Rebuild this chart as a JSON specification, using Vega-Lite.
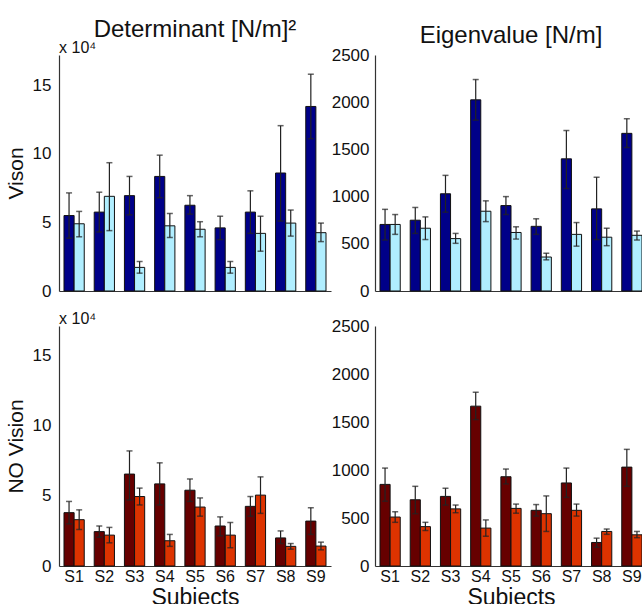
{
  "$schema": "https://vega.github.io/schema/vega-lite/v6.json",
  "autosize": {"type": "none"},
  "padding": {"left": 59, "top": 55, "right": 583, "bottom": 549},
  "background": "white",
  "columns": 2,
  "bounds": "flush",
  "spacing": {"row": 35, "column": 44},
  "resolve": {"scale": {"color": "independent"}},
  "datasets": {
    "d": [
      {"m":"D","v":"V","s":"S1","c":"a","val":5.5,"lo":3.85,"hi":7.15},
      {"m":"D","v":"V","s":"S1","c":"b","val":4.9,"lo":3.95,"hi":5.8},
      {"m":"D","v":"V","s":"S2","c":"a","val":5.75,"lo":4.3,"hi":7.2},
      {"m":"D","v":"V","s":"S2","c":"b","val":6.9,"lo":4.4,"hi":9.35},
      {"m":"D","v":"V","s":"S3","c":"a","val":6.95,"lo":5.55,"hi":8.35},
      {"m":"D","v":"V","s":"S3","c":"b","val":1.72,"lo":1.3,"hi":2.15},
      {"m":"D","v":"V","s":"S4","c":"a","val":8.35,"lo":6.8,"hi":9.9},
      {"m":"D","v":"V","s":"S4","c":"b","val":4.75,"lo":3.9,"hi":5.65},
      {"m":"D","v":"V","s":"S5","c":"a","val":6.25,"lo":5.6,"hi":6.95},
      {"m":"D","v":"V","s":"S5","c":"b","val":4.5,"lo":3.95,"hi":5.05},
      {"m":"D","v":"V","s":"S6","c":"a","val":4.6,"lo":3.75,"hi":5.45},
      {"m":"D","v":"V","s":"S6","c":"b","val":1.72,"lo":1.3,"hi":2.15},
      {"m":"D","v":"V","s":"S7","c":"a","val":5.75,"lo":4.2,"hi":7.3},
      {"m":"D","v":"V","s":"S7","c":"b","val":4.2,"lo":2.9,"hi":5.45},
      {"m":"D","v":"V","s":"S8","c":"a","val":8.6,"lo":5.1,"hi":12.05},
      {"m":"D","v":"V","s":"S8","c":"b","val":4.95,"lo":4.0,"hi":5.9},
      {"m":"D","v":"V","s":"S9","c":"a","val":13.45,"lo":11.1,"hi":15.8},
      {"m":"D","v":"V","s":"S9","c":"b","val":4.25,"lo":3.6,"hi":4.95},

      {"m":"E","v":"V","s":"S1","c":"a","val":705,"lo":540,"hi":865},
      {"m":"E","v":"V","s":"S1","c":"b","val":705,"lo":600,"hi":810},
      {"m":"E","v":"V","s":"S2","c":"a","val":750,"lo":610,"hi":885},
      {"m":"E","v":"V","s":"S2","c":"b","val":665,"lo":545,"hi":785},
      {"m":"E","v":"V","s":"S3","c":"a","val":1030,"lo":835,"hi":1225},
      {"m":"E","v":"V","s":"S3","c":"b","val":555,"lo":505,"hi":610},
      {"m":"E","v":"V","s":"S4","c":"a","val":2025,"lo":1810,"hi":2240},
      {"m":"E","v":"V","s":"S4","c":"b","val":845,"lo":735,"hi":955},
      {"m":"E","v":"V","s":"S5","c":"a","val":905,"lo":810,"hi":1000},
      {"m":"E","v":"V","s":"S5","c":"b","val":620,"lo":550,"hi":680},
      {"m":"E","v":"V","s":"S6","c":"a","val":685,"lo":600,"hi":765},
      {"m":"E","v":"V","s":"S6","c":"b","val":360,"lo":330,"hi":400},
      {"m":"E","v":"V","s":"S7","c":"a","val":1400,"lo":1085,"hi":1700},
      {"m":"E","v":"V","s":"S7","c":"b","val":600,"lo":475,"hi":725},
      {"m":"E","v":"V","s":"S8","c":"a","val":870,"lo":545,"hi":1205},
      {"m":"E","v":"V","s":"S8","c":"b","val":570,"lo":480,"hi":665},
      {"m":"E","v":"V","s":"S9","c":"a","val":1670,"lo":1520,"hi":1825},
      {"m":"E","v":"V","s":"S9","c":"b","val":590,"lo":540,"hi":635},

      {"m":"D","v":"N","s":"S1","c":"a","val":3.8,"lo":3.0,"hi":4.6},
      {"m":"D","v":"N","s":"S1","c":"b","val":3.3,"lo":2.6,"hi":4.0},
      {"m":"D","v":"N","s":"S2","c":"a","val":2.45,"lo":2.05,"hi":2.85},
      {"m":"D","v":"N","s":"S2","c":"b","val":2.2,"lo":1.65,"hi":2.75},
      {"m":"D","v":"N","s":"S3","c":"a","val":6.55,"lo":4.7,"hi":8.2},
      {"m":"D","v":"N","s":"S3","c":"b","val":4.95,"lo":4.35,"hi":5.55},
      {"m":"D","v":"N","s":"S4","c":"a","val":5.85,"lo":4.35,"hi":7.35},
      {"m":"D","v":"N","s":"S4","c":"b","val":1.8,"lo":1.4,"hi":2.25},
      {"m":"D","v":"N","s":"S5","c":"a","val":5.4,"lo":4.6,"hi":6.2},
      {"m":"D","v":"N","s":"S5","c":"b","val":4.2,"lo":3.55,"hi":4.85},
      {"m":"D","v":"N","s":"S6","c":"a","val":2.85,"lo":2.15,"hi":3.5},
      {"m":"D","v":"N","s":"S6","c":"b","val":2.2,"lo":1.3,"hi":3.1},
      {"m":"D","v":"N","s":"S7","c":"a","val":4.25,"lo":3.55,"hi":4.95},
      {"m":"D","v":"N","s":"S7","c":"b","val":5.05,"lo":3.75,"hi":6.35},
      {"m":"D","v":"N","s":"S8","c":"a","val":2.0,"lo":1.6,"hi":2.5},
      {"m":"D","v":"N","s":"S8","c":"b","val":1.4,"lo":1.2,"hi":1.6},
      {"m":"D","v":"N","s":"S9","c":"a","val":3.2,"lo":2.25,"hi":4.15},
      {"m":"D","v":"N","s":"S9","c":"b","val":1.42,"lo":1.15,"hi":1.7},

      {"m":"E","v":"N","s":"S1","c":"a","val":850,"lo":675,"hi":1020},
      {"m":"E","v":"N","s":"S1","c":"b","val":510,"lo":455,"hi":565},
      {"m":"E","v":"N","s":"S2","c":"a","val":690,"lo":545,"hi":830},
      {"m":"E","v":"N","s":"S2","c":"b","val":410,"lo":370,"hi":455},
      {"m":"E","v":"N","s":"S3","c":"a","val":725,"lo":635,"hi":810},
      {"m":"E","v":"N","s":"S3","c":"b","val":595,"lo":555,"hi":635},
      {"m":"E","v":"N","s":"S4","c":"a","val":1665,"lo":1525,"hi":1810},
      {"m":"E","v":"N","s":"S4","c":"b","val":395,"lo":310,"hi":480},
      {"m":"E","v":"N","s":"S5","c":"a","val":930,"lo":855,"hi":1010},
      {"m":"E","v":"N","s":"S5","c":"b","val":600,"lo":550,"hi":645},
      {"m":"E","v":"N","s":"S6","c":"a","val":580,"lo":520,"hi":640},
      {"m":"E","v":"N","s":"S6","c":"b","val":545,"lo":360,"hi":730},
      {"m":"E","v":"N","s":"S7","c":"a","val":865,"lo":715,"hi":1020},
      {"m":"E","v":"N","s":"S7","c":"b","val":580,"lo":520,"hi":645},
      {"m":"E","v":"N","s":"S8","c":"a","val":245,"lo":195,"hi":290},
      {"m":"E","v":"N","s":"S8","c":"b","val":360,"lo":330,"hi":385},
      {"m":"E","v":"N","s":"S9","c":"a","val":1030,"lo":830,"hi":1215},
      {"m":"E","v":"N","s":"S9","c":"b","val":325,"lo":295,"hi":360}
    ]
  },
  "concat": [
    {
      "width": 272, "height": 236,
      "data": {"name": "d"},
      "transform": [{"filter": "datum.m == 'D' && datum.v == 'V'"}],
      "title": {"text": "Determinant [N/m]²", "fontSize": 24, "fontWeight": "normal", "frame": "group", "anchor": "middle", "baseline": "alphabetic", "offset": -21, "color": "#111"},
      "encoding": {
        "x": {"field": "s", "type": "nominal", "scale": {"paddingInner": 0.33, "paddingOuter": 0.165}, "axis": {"labels": false, "title": null}},
        "xOffset": {"field": "c", "type": "nominal", "scale": {"paddingInner": 0, "paddingOuter": 0}}
      },
      "layer": [
        {"mark": {"type": "bar", "stroke": "#111", "strokeWidth": 1},
         "encoding": {
           "y": {"field": "val", "type": "quantitative", "title": "Vison", "scale": {"domain": [0, 17.2], "nice": false, "zero": true}, "axis": {"values": [0, 5, 10, 15], "format": "d", "labelFontSize": 17, "labelPadding": 8, "titleFontSize": 21, "titlePadding": 6}},
           "color": {"field": "c", "type": "nominal", "scale": {"domain": ["a", "b"], "range": ["#000088", "#B0EEFF"]}, "legend": null}}},
        {"mark": {"type": "rule", "color": "#222", "strokeWidth": 1.2},
         "encoding": {"y": {"field": "lo", "type": "quantitative", "title": "Vison"}, "y2": {"field": "hi"}}},
        {"mark": {"type": "tick", "color": "#222", "size": 6, "thickness": 1.5},
         "encoding": {"y": {"field": "hi", "type": "quantitative", "title": "Vison"}}},
        {"mark": {"type": "tick", "color": "#222", "size": 6, "thickness": 1.5},
         "encoding": {"y": {"field": "lo", "type": "quantitative", "title": "Vison"}}},
        {"transform": [{"filter": "datum.s == 'S1' && datum.c == 'a'"}],
         "mark": {"type": "text", "align": "left", "baseline": "alphabetic", "fontSize": 16, "dx": -10, "dy": -2, "color": "#111"},
         "encoding": {"y": {"datum": 17.2, "type": "quantitative"}, "text": {"value": "x 10⁴"}}}
      ]
    },
    {
      "width": 272, "height": 236,
      "data": {"name": "d"},
      "transform": [{"filter": "datum.m == 'E' && datum.v == 'V'"}],
      "title": {"text": "Eigenvalue [N/m]", "fontSize": 24, "fontWeight": "normal", "frame": "group", "anchor": "middle", "baseline": "alphabetic", "offset": -21, "color": "#111"},
      "encoding": {
        "x": {"field": "s", "type": "nominal", "scale": {"paddingInner": 0.33, "paddingOuter": 0.165}, "axis": {"labels": false, "title": null}},
        "xOffset": {"field": "c", "type": "nominal", "scale": {"paddingInner": 0, "paddingOuter": 0}}
      },
      "layer": [
        {"mark": {"type": "bar", "stroke": "#111", "strokeWidth": 1},
         "encoding": {
           "y": {"field": "val", "type": "quantitative", "title": null, "scale": {"domain": [0, 2500], "nice": false}, "axis": {"values": [0, 500, 1000, 1500, 2000, 2500], "format": "d", "labelFontSize": 17, "labelPadding": 6}},
           "color": {"field": "c", "type": "nominal", "scale": {"domain": ["a", "b"], "range": ["#000088", "#B0EEFF"]}, "legend": null}}},
        {"mark": {"type": "rule", "color": "#222", "strokeWidth": 1.2},
         "encoding": {"y": {"field": "lo", "type": "quantitative", "title": null}, "y2": {"field": "hi"}}},
        {"mark": {"type": "tick", "color": "#222", "size": 6, "thickness": 1.5},
         "encoding": {"y": {"field": "hi", "type": "quantitative", "title": null}}},
        {"mark": {"type": "tick", "color": "#222", "size": 6, "thickness": 1.5},
         "encoding": {"y": {"field": "lo", "type": "quantitative", "title": null}}}
      ]
    },
    {
      "width": 272, "height": 240,
      "data": {"name": "d"},
      "transform": [{"filter": "datum.m == 'D' && datum.v == 'N'"}],
      "encoding": {
        "x": {"field": "s", "type": "nominal", "scale": {"paddingInner": 0.33, "paddingOuter": 0.165}, "axis": {"labelAngle": 0, "labelFontSize": 16, "labelPadding": 2, "title": "Subjects", "titleFontSize": 23, "titlePadding": 2}},
        "xOffset": {"field": "c", "type": "nominal", "scale": {"paddingInner": 0, "paddingOuter": 0}}
      },
      "layer": [
        {"mark": {"type": "bar", "stroke": "#111", "strokeWidth": 1},
         "encoding": {
           "y": {"field": "val", "type": "quantitative", "title": "NO Vision", "scale": {"domain": [0, 17.1], "nice": false}, "axis": {"values": [0, 5, 10, 15], "format": "d", "labelFontSize": 17, "labelPadding": 8, "titleFontSize": 21, "titlePadding": 6}},
           "color": {"field": "c", "type": "nominal", "scale": {"domain": ["a", "b"], "range": ["#660000", "#DD3300"]}, "legend": null}}},
        {"mark": {"type": "rule", "color": "#222", "strokeWidth": 1.2},
         "encoding": {"y": {"field": "lo", "type": "quantitative", "title": "NO Vision"}, "y2": {"field": "hi"}}},
        {"mark": {"type": "tick", "color": "#222", "size": 6, "thickness": 1.5},
         "encoding": {"y": {"field": "hi", "type": "quantitative", "title": "NO Vision"}}},
        {"mark": {"type": "tick", "color": "#222", "size": 6, "thickness": 1.5},
         "encoding": {"y": {"field": "lo", "type": "quantitative", "title": "NO Vision"}}},
        {"transform": [{"filter": "datum.s == 'S1' && datum.c == 'a'"}],
         "mark": {"type": "text", "align": "left", "baseline": "alphabetic", "fontSize": 16, "dx": -10, "dy": -2, "color": "#111"},
         "encoding": {"y": {"datum": 17.1, "type": "quantitative"}, "text": {"value": "x 10⁴"}}}
      ]
    },
    {
      "width": 272, "height": 240,
      "data": {"name": "d"},
      "transform": [{"filter": "datum.m == 'E' && datum.v == 'N'"}],
      "encoding": {
        "x": {"field": "s", "type": "nominal", "scale": {"paddingInner": 0.33, "paddingOuter": 0.165}, "axis": {"labelAngle": 0, "labelFontSize": 16, "labelPadding": 2, "title": "Subjects", "titleFontSize": 23, "titlePadding": 2}},
        "xOffset": {"field": "c", "type": "nominal", "scale": {"paddingInner": 0, "paddingOuter": 0}}
      },
      "layer": [
        {"mark": {"type": "bar", "stroke": "#111", "strokeWidth": 1},
         "encoding": {
           "y": {"field": "val", "type": "quantitative", "title": null, "scale": {"domain": [0, 2500], "nice": false}, "axis": {"values": [0, 500, 1000, 1500, 2000, 2500], "format": "d", "labelFontSize": 17, "labelPadding": 6}},
           "color": {"field": "c", "type": "nominal", "scale": {"domain": ["a", "b"], "range": ["#660000", "#DD3300"]}, "legend": null}}},
        {"mark": {"type": "rule", "color": "#222", "strokeWidth": 1.2},
         "encoding": {"y": {"field": "lo", "type": "quantitative", "title": null}, "y2": {"field": "hi"}}},
        {"mark": {"type": "tick", "color": "#222", "size": 6, "thickness": 1.5},
         "encoding": {"y": {"field": "hi", "type": "quantitative", "title": null}}},
        {"mark": {"type": "tick", "color": "#222", "size": 6, "thickness": 1.5},
         "encoding": {"y": {"field": "lo", "type": "quantitative", "title": null}}}
      ]
    }
  ],
  "config": {
    "font": "Liberation Sans",
    "view": {"stroke": null},
    "axis": {"domainColor": "#333", "domainWidth": 1.2, "ticks": false, "grid": false, "labelColor": "#111", "titleColor": "#111", "titleFontWeight": "normal", "labelFont": "Liberation Sans", "titleFont": "Liberation Sans"}
  }
}
